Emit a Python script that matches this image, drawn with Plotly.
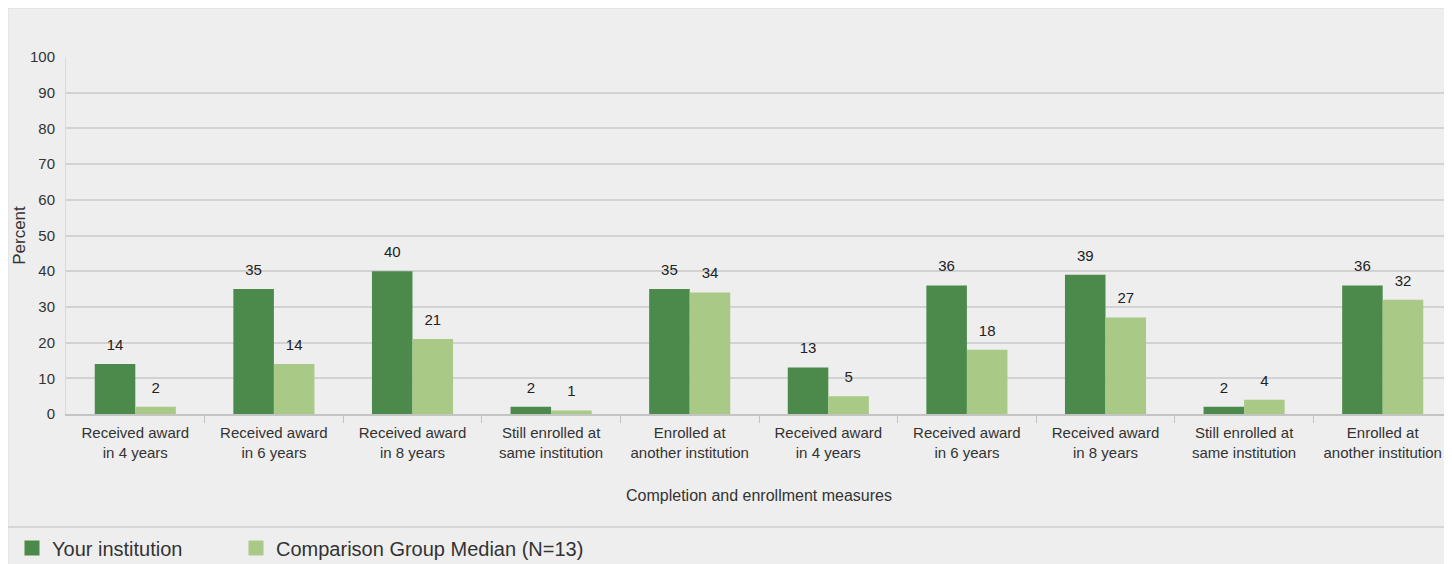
import plotly.graph_objects as go

categories = [
    "Received award<br>in 4 years", "Received award<br>in 6 years", "Received award<br>in 8 years",
    "Still enrolled at<br>same institution", "Enrolled at<br>another institution",
    "Received award<br>in 4 years", "Received award<br>in 6 years", "Received award<br>in 8 years",
    "Still enrolled at<br>same institution", "Enrolled at<br>another institution",
]
your_institution = [14, 35, 40, 2, 35, 13, 36, 39, 2, 36]
comparison_median = [2, 14, 21, 1, 34, 5, 18, 27, 4, 32]
y_ticks = [0, 10, 20, 30, 40, 50, 60, 70, 80, 90, 100]
series_names = ["Your institution", "Comparison Group Median (N=13)"]

positions = list(range(len(categories)))
FONT = "Liberation Sans, Arial, sans-serif"
DARK = "#4b8a4b"
LIGHT = "#a9c987"
BG = "#eeeeee"
TXT = "#333333"
GAP = 0.415

fig = go.Figure()
for vals, color, name, grp in [(your_institution, DARK, series_names[0], "a"),
                               (comparison_median, LIGHT, series_names[1], "b")]:
    fig.add_trace(go.Bar(
        x=positions, y=vals, name=name, showlegend=False,
        offsetgroup=grp, alignmentgroup="g",
        marker=dict(color=color, line=dict(width=0)),
    ))
    # value labels, aligned with the grouped bars
    fig.add_trace(go.Scatter(
        x=positions, y=vals, mode="markers+text", showlegend=False,
        offsetgroup=grp, alignmentgroup="g", hoverinfo="skip",
        marker=dict(size=15, color="rgba(0,0,0,0)"),
        text=[str(v) for v in vals], textposition="top center",
        textfont=dict(family=FONT, size=15, color="#222"), cliponaxis=False,
    ))

# legend-only entries with larger square symbols
for color, name, lg in [(DARK, series_names[0], "legend"), (LIGHT, series_names[1], "legend2")]:
    fig.add_trace(go.Scatter(
        x=[None], y=[None], mode="markers", name=name, legend=lg,
        marker=dict(symbol="square", size=15, color=color),
    ))

W, H = 1452, 564
L, R, T, B = 58, 8, 49, 158
pw, ph = W - L - R, H - T - B

def px(x):
    return (x - L) / pw

def py(y):
    return (H - B - y) / ph

legend_common = dict(
    orientation="h", yanchor="middle", xanchor="left",
    xref="paper", yref="paper", itemsizing="trace",
    font=dict(family=FONT, size=20, color=TXT),
    bgcolor="rgba(0,0,0,0)",
)

fig.update_layout(
    width=W, height=H,
    margin=dict(l=L, r=R, t=T, b=B, autoexpand=False),
    paper_bgcolor=BG,
    plot_bgcolor="rgba(0,0,0,0)",
    barmode="group", bargap=GAP, bargroupgap=0,
    scattermode="group", scattergap=GAP,
    font=dict(family=FONT, size=15, color=TXT),
    showlegend=True,
    legend=dict(x=px(4), y=py(540), **legend_common),
    legend2=dict(x=px(228), y=py(540), **legend_common),
    xaxis=dict(
        automargin=False,
        range=[-0.5, len(categories) - 0.5],
        tickmode="array", tickvals=positions, ticktext=categories,
        ticks="", showgrid=False, zeroline=False,
        showline=True, linecolor="#c4c4c4", linewidth=2,
        ticklabelstandoff=4,
        tickfont=dict(family=FONT, size=15, color=TXT),
        title=dict(text="Completion and enrollment measures", standoff=30,
                   font=dict(family=FONT, size=16, color=TXT)),
        minor=dict(tickvals=[p + 0.5 for p in positions[:-1]], ticks="outside",
                   ticklen=7, tickcolor="#c4c4c4", tickwidth=1, showgrid=False),
    ),
    yaxis=dict(
        automargin=False,
        range=[0, 100], tickmode="array", tickvals=y_ticks,
        showgrid=True, gridcolor="#d2d2d2", gridwidth=2,
        zeroline=False, showline=True, linecolor="#dadada", linewidth=1,
        ticks="", ticklabelstandoff=7,
        tickfont=dict(family=FONT, size=15, color=TXT),
        title=dict(text="Percent", standoff=0, font=dict(family=FONT, size=17, color=TXT)),
    ),
    shapes=[
        dict(type="rect", xref="paper", yref="paper", layer="below",
             x0=px(0), x1=px(W + 5), y0=py(H + 5), y1=py(0),
             fillcolor="rgba(0,0,0,0)", line=dict(color="#dcdcdc", width=1)),
        dict(type="line", xref="paper", yref="paper", layer="below",
             x0=px(0), x1=px(W + 5), y0=py(519), y1=py(519),
             line=dict(color="#d6d6d6", width=2)),
    ],
)

fig.write_html("out.html")
